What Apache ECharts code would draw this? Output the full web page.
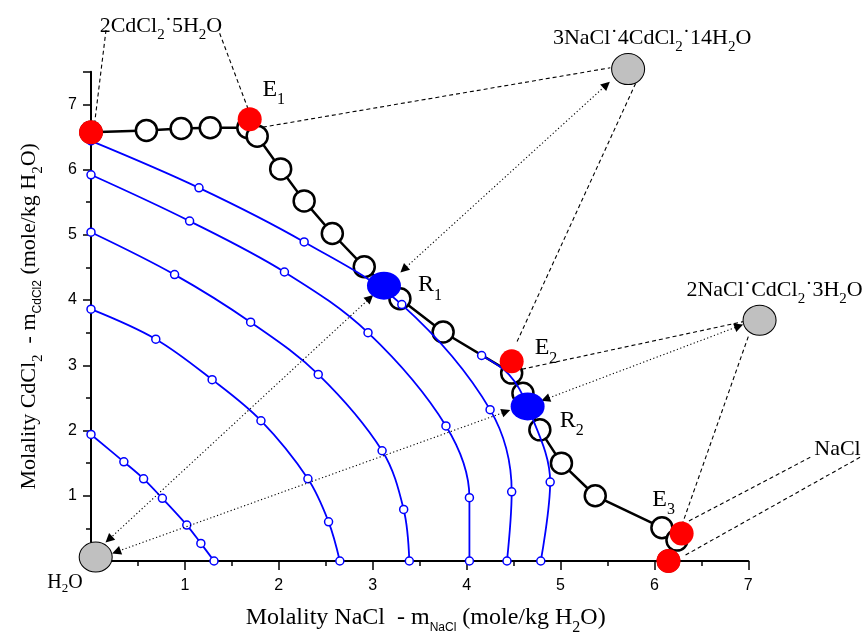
<!DOCTYPE html>
<html><head><meta charset="utf-8">
<script src="https://cdn.jsdelivr.net/npm/echarts@6/dist/echarts.min.js"></script>
<style>html,body{margin:0;padding:0;background:#fff}#c{width:863px;height:637px}</style>
</head><body><div id="c"></div>
<script>
// ---------------- data (mole/kg H2O) ----------------
// isopiestic lines (blue)
const isoCurve1 = [[0,1.94],[0.35,1.52],[0.56,1.26],[0.76,0.96],[1.02,0.55],[1.17,0.27],[1.31,0]];
const isoCurve2 = [[0,3.86],[0.69,3.40],[1.29,2.78],[1.81,2.15],[2.31,1.26],[2.53,0.60],[2.65,0]];
const isoCurve3 = [[0,5.04],[0.89,4.39],[1.70,3.66],[2.42,2.86],[3.10,1.69],[3.33,0.79],[3.39,0]];
const isoCurve4 = [[0,5.92],[1.05,5.21],[2.06,4.43],[2.95,3.50],[3.78,2.07],[4.03,0.97],[4.03,0]];
const isoCurve5 = [[0,6.44],[1.15,5.72],[2.27,4.89],[3.31,3.93],[4.25,2.32],[4.48,1.06],[4.43,0]];
const isoCurve6 = [[4.16,3.15],[4.45,2.86],[4.65,2.37],[4.89,1.21],[4.79,0]];
// solubility isotherm (black)
const solubilityCurve = [[0,6.57],[0.59,6.60],[0.96,6.63],[1.27,6.64],[1.67,6.64],[1.77,6.51],[2.02,6.01],
  [2.27,5.52],[2.57,5.02],[2.91,4.51],[3.29,4.02],[3.75,3.51],[4.48,2.88],[4.60,2.57],[4.78,2.01],
  [5.01,1.50],[5.37,1.00],[6.08,0.51],[6.24,0.32],[6.15,0]];
// invariant / saturation points (red)
const invariantPoints = [[0,6.57],[1.69,6.77],[4.48,3.06],[6.29,0.42],[6.15,0]];
const invariantNames = ['', 'E1', 'E2', 'E3', ''];
// isopiestic results (blue filled)
const resultPoints = [[3.12,4.22],[4.65,2.37]];
const resultNames = ['R1', 'R2'];
// solid phase composition points (grey)
const saltPoints = [[0.05,0.06],[5.72,7.54],[7.12,3.69]];
const saltNames = ['H2O', '3NaCl˙4CdCl2˙14H2O', '2NaCl˙CdCl2˙3H2O'];
// free text anchors (text centre / baseline)
const textAnchors = [[0.745,8.14],[7.95,1.655]];
const textNames = ['2CdCl2˙5H2O', 'NaCl'];
// connector lines (data units)
const dottedArrows = [
  [[3.33,4.47],[5.49,7.30]],
  [[2.97,4.03],[0.19,0.33]],
  [[4.42,2.29],[0.27,0.14]],
  [[4.84,2.48],[6.90,3.60]]
];
const dashedLeaders = [
  [[0.16,8.14],[0.04,6.73]],
  [[1.37,8.09],[1.67,6.94]],
  [[1.83,6.65],[5.53,7.56]],
  [[5.80,7.32],[4.53,3.34]],
  [[4.59,2.94],[6.95,3.67]],
  [[7.00,3.44],[6.30,0.58]],
  [[7.66,1.59],[6.35,0.60]],
  [[8.19,1.59],[6.33,0.09]]
];
const xOriginLabel = 'H2O';

// ---------------- styling helpers ----------------
const SERIF = 'Liberation Serif', SANS = 'Liberation Sans';
function makeRich(m, extra) {
  const defs = Object.assign({n: {size: m, shift: 0, family: SERIF}}, extra);
  let H = m; const pt = {};
  for (const k in defs) {
    const d = defs[k];
    const center = 0.805 * m + d.shift - 0.305 * d.size;
    pt[k] = Math.max(0, center - d.size / 2);
    H = Math.max(H, pt[k] + d.size);
  }
  H = Math.ceil(H);
  const rich = {};
  for (const k in defs) {
    const d = defs[k];
    rich[k] = {fontFamily: d.family, fontSize: d.size, lineHeight: d.size,
      padding: [pt[k], 0, H - pt[k] - d.size, 0], color: '#000', opacity: 1};
  }
  return {rich, bb: H - 0.805 * m};
}
function chem(str) { // digits following letters become subscripts
  let out = '', buf = '', i = 0;
  const flush = () => { if (buf) { out += '{n|' + buf + '}'; buf = ''; } };
  while (i < str.length) {
    const ch = str[i];
    if (/[0-9]/.test(ch) && i > 0 && /[A-Za-z]/.test(str[i - 1])) {
      let num = '';
      while (i < str.length && /[0-9]/.test(str[i])) { num += str[i]; i++; }
      flush(); out += '{s|' + num + '}';
    } else { buf += ch; i++; }
  }
  flush();
  return out;
}
const richE = makeRich(24, {s: {size: 16, shift: 8, family: SERIF}});
const richC = makeRich(22, {s: {size: 15, shift: 7, family: SERIF}});
const richX = makeRich(24, {s: {size: 16, shift: 7, family: SERIF}, ss: {size: 12, shift: 6, family: SANS}});
const richY = makeRich(22, {s: {size: 15, shift: 6, family: SERIF}, ss: {size: 12, shift: 5, family: SANS}});

const eLabelOffsets = [null, [12.7, -25.7], [23, -9.5], [-29.4, -30], null]; // text left / baseline from centre
const rLabelOffsets = [[34, 3], [32, 18]];
const saltLabelOffsets = [null, [24, -27.6], [15, -26.7]]; // text centre / baseline

const blueCurves = [isoCurve1, isoCurve2, isoCurve3, isoCurve4, isoCurve5, isoCurve6];
const hiddenSymbols = {5: [1, 2]}; // points covered by E2/R2 markers

const series = [];
series.push({
  type: 'line', data: solubilityCurve, symbol: 'circle', symbolSize: 21, z: 2,
  lineStyle: {color: '#000', width: 2.5},
  itemStyle: {color: '#fff', borderColor: '#000', borderWidth: 2.5}
});
blueCurves.forEach((c, i) => {
  series.push({
    type: 'line', smooth: 0.35, symbol: 'circle', symbolSize: 8, z: 3,
    data: c.map((p, j) => (hiddenSymbols[i] && hiddenSymbols[i].includes(j)) ? {value: p, symbol: 'none'} : p),
    lineStyle: {color: '#0000ff', width: 1.8},
    itemStyle: {color: '#fff', borderColor: '#0000ff', borderWidth: 1.5}
  });
});
series.push({
  type: 'lines', coordinateSystem: 'cartesian2d', clip: false, z: 4,
  symbol: 'none', lineStyle: {color: '#000', width: 1.1, type: [4, 3], opacity: 1},
  data: dashedLeaders.map(c => ({coords: c}))
});
series.push({
  type: 'lines', coordinateSystem: 'cartesian2d', clip: false, z: 4,
  symbol: ['triangle', 'triangle'], symbolSize: 9,
  lineStyle: {color: '#000', width: 1.1, type: [1.2, 2.4], opacity: 1},
  itemStyle: {color: '#000'},
  data: dottedArrows.map(c => ({coords: c}))
});
series.push({
  type: 'scatter', clip: false, z: 5, symbolSize: 24,
  itemStyle: {color: '#ff0000', opacity: 1},
  data: invariantPoints.map((p, i) => {
    const o = eLabelOffsets[i];
    const item = {value: p};
    if (o) item.label = {show: true, position: 'inside', align: 'left', verticalAlign: 'bottom', color: '#000',
      offset: [o[0], o[1] + richE.bb], formatter: '{n|E}{s|' + invariantNames[i].slice(1) + '}', rich: richE.rich};
    return item;
  })
});
series.push({
  type: 'scatter', clip: false, z: 6, symbolSize: [34, 28],
  itemStyle: {color: '#0000ff', opacity: 1},
  data: resultPoints.map((p, i) => ({value: p, label: {show: true, position: 'inside', align: 'left', verticalAlign: 'bottom',
    color: '#000', offset: [rLabelOffsets[i][0], rLabelOffsets[i][1] + richE.bb],
    formatter: '{n|R}{s|' + resultNames[i].slice(1) + '}', rich: richE.rich}}))
});
const saltSizes = [[33, 30], [33, 31], [33, 30]];
series.push({
  type: 'scatter', clip: false, z: 6,
  itemStyle: {color: '#c0c0c0', borderColor: '#000', borderWidth: 1, opacity: 1},
  data: saltPoints.map((p, i) => {
    const item = {value: p, symbolSize: saltSizes[i]};
    const o = saltLabelOffsets[i];
    if (o) item.label = {show: true, position: 'inside', align: 'center', verticalAlign: 'bottom', color: '#000',
      offset: [o[0], o[1] + richC.bb], formatter: chem(saltNames[i]), rich: richC.rich};
    return item;
  })
});
series.push({
  type: 'scatter', clip: false, z: 6, symbolSize: 0, itemStyle: {color: '#000', opacity: 1},
  data: textAnchors.map((p, i) => ({value: p, label: {show: true, position: 'inside', align: 'center', color: '#000',
    verticalAlign: 'bottom', offset: [0, richC.bb], formatter: chem(textNames[i]), rich: richC.rich}}))
});

const axisCommon = {
  type: 'value', splitLine: {show: false}, minorSplitLine: {show: false},
  axisLine: {show: true, onZero: false, lineStyle: {color: '#000', width: 2}},
  axisTick: {show: true, inside: false, length: 9, lineStyle: {color: '#000', width: 1.5}},
  minorTick: {show: true, splitNumber: 2, length: 5, lineStyle: {color: '#000', width: 1.5}}
};
const xLabelRich = {
  d: {fontFamily: SANS, fontSize: 16, lineHeight: 16, padding: [3, 0, 0, 0], color: '#000'},
  h: {fontFamily: SERIF, fontSize: 20, lineHeight: 14, padding: [2, 0, 5, 0], color: '#000'},
  hs: {fontFamily: SERIF, fontSize: 13, lineHeight: 13, padding: [10, 0, 0, 0], color: '#000'},
  gap: {width: 52}
};
const option = {
  animation: false,
  backgroundColor: '#fff',
  grid: {left: 91, right: 114.7, top: 71.7, bottom: 76, containLabel: false, outerBoundsMode: 'none'},
  xAxis: Object.assign({}, axisCommon, {
    min: 0, max: 7, interval: 1,
    axisLabel: {margin: 15, color: '#000', fontFamily: SANS, fontSize: 16, rich: xLabelRich,
      formatter: v => v === 0 ? '{h|' + xOriginLabel[0] + '}{hs|' + xOriginLabel[1] + '}{h|' + xOriginLabel[2] + '}{gap|}' : '{d|' + v + '}'},
    name: '{n|Molality NaCl  - m}{ss|NaCl}{n| (mole/kg H}{s|2}{n|O)}',
    nameLocation: 'middle', nameGap: 48, nameTextStyle: {rich: richX.rich, padding: [0, 0, 0, 12]}
  }),
  yAxis: Object.assign({}, axisCommon, {
    min: 0, max: 7.5, interval: 1,
    axisTick: Object.assign({}, axisCommon.axisTick, {length: 8}),
    axisLabel: {margin: 14, color: '#000', fontFamily: SANS, fontSize: 16,
      formatter: v => (v === 0 || v === 7.5) ? '' : String(v)},
    name: '{n|Molality CdCl}{s|2}{n|  - m}{ss|CdCl2}{n| (mole/kg H}{s|2}{n|O)}',
    nameLocation: 'middle', nameGap: 48, nameTextStyle: {rich: richY.rich}
  }),
  series
};
const chart = echarts.init(document.getElementById('c'), null, {renderer: 'canvas'});
chart.setOption(option);
</script>
</body></html>
